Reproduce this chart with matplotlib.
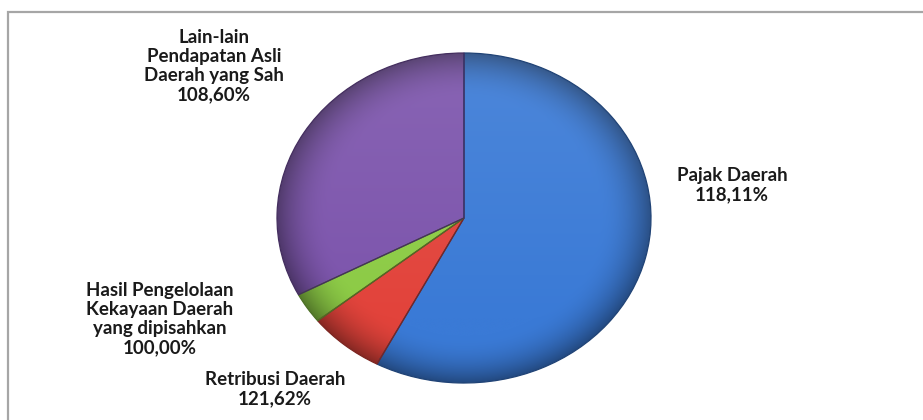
import numpy as np
import matplotlib.pyplot as plt
from matplotlib.colors import to_rgb
from matplotlib.patches import Rectangle

# slice shares (percent of the circle)
names = ['Pajak Daerah', 'Retribusi Daerah',
         'Hasil Pengelolaan\nKekayaan Daerah\nyang dipisahkan',
         'Lain-lain\nPendapatan Asli\nDaerah yang Sah']
realisasi = ['118,11%', '121,62%', '100,00%', '108,60%']
shares = [57.7, 6.6, 3.0, 32.7]
colors = ['#3A7AD6', '#E2433B', '#8CCB45', '#7C54AC']

W, H = 923, 420
fig = plt.figure(figsize=(W / 100, H / 100), dpi=100)

# frame of the chart area (right and bottom edges run off the picture)
fig.add_artist(Rectangle((8 / W, -0.1), 1.2, 1.1 - 12 / H, transform=fig.transFigure,
                         fill=False, edgecolor='#A6A6A6', linewidth=1.6))

# pie, slightly flattened like the original
cx, cy, rx, ry = 464, 218, 187, 165
ax = fig.add_axes([(cx - rx) / W, 1 - (cy + ry) / H, 2 * rx / W, 2 * ry / H])
wedges, _ = ax.pie(shares, colors=colors, startangle=90, counterclock=False)
ax.set_aspect('auto')

# soft shading: darker rim, lighter upper part
yy, xx = np.mgrid[-1:1:400j, -1:1:400j]
r = np.hypot(xx, yy)
dark = np.clip((r - 0.72) / 0.28, 0, 1) ** 2 * 0.4
light = np.clip(yy * 0.5 + 0.3, 0, 1) * 0.12
for w, c in zip(wedges, colors):
    base = np.array(to_rgb(c))
    img = base[None, None, :] * (1 - dark[..., None])
    img = img * (1 - light[..., None]) + light[..., None]
    im = ax.imshow(img, extent=(-1, 1, -1, 1), origin='lower', aspect='auto', zorder=1)
    im.set_clip_path(w)
    w.set_facecolor('none')
    w.set_edgecolor(base * 0.55)
    w.set_linewidth(0.9)
    w.set_zorder(2)
ax.set_xlim(-1, 1)
ax.set_ylim(-1, 1)

# data labels (centre positions in pixels)
label_pos = [(732, 185), (275, 389), (160, 319), (214, 66)]
for name, val, (px, py) in zip(names, realisasi, label_pos):
    fig.text(px / W, 1 - py / H, name + '\n' + val, ha='center', va='center',
             fontsize=13.5, family='Lato', weight='bold', color='#1a1a1a',
             linespacing=1.15)

fig.savefig('out.png', dpi=100)
